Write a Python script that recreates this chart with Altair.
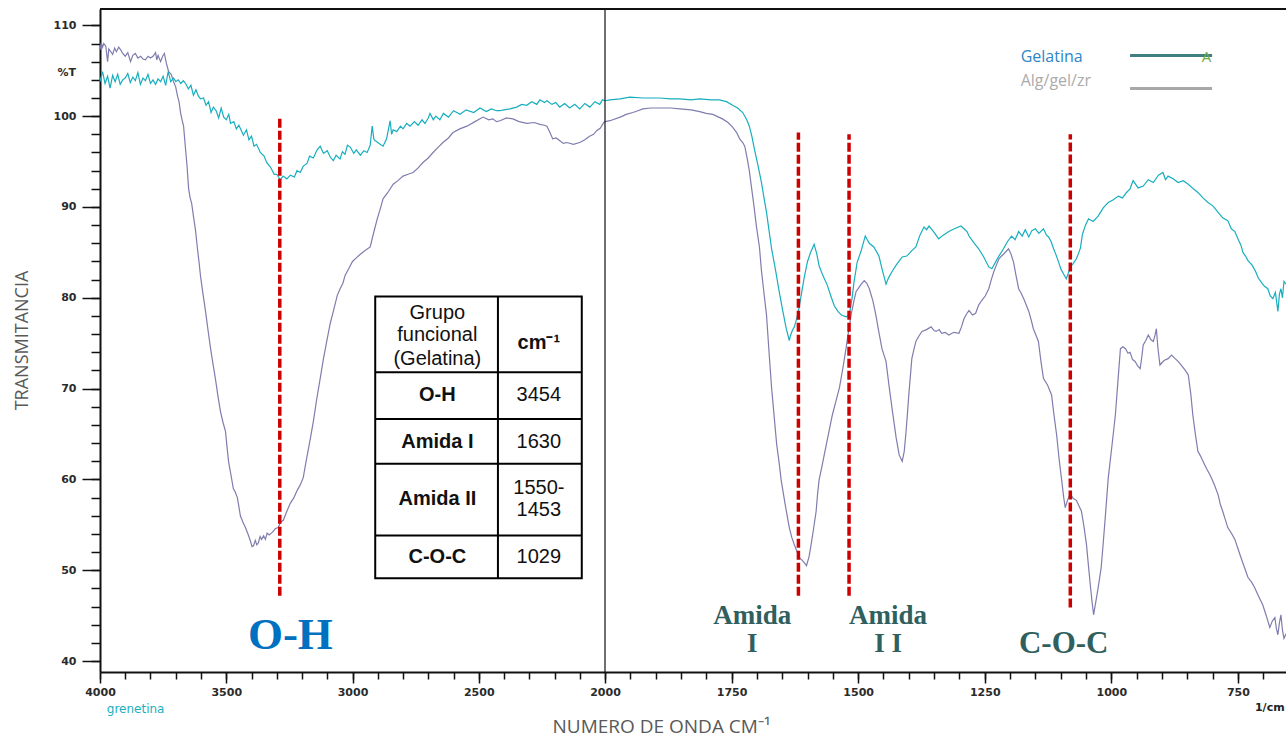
import altair as alt
import pandas as pd

# ---------------- data (wavenumber cm-1, %T) ----------------
GEL_WN = [4000, 3990, 3980, 3970, 3960, 3950, 3940, 3930, 3920, 3910, 3900, 3890, 3880, 3870, 3860, 3850,
          3840, 3830, 3820, 3810, 3800, 3790, 3780, 3770, 3760, 3750, 3740, 3730, 3720, 3709, 3700, 3690,
          3680, 3670, 3661, 3650, 3640, 3630, 3620, 3610, 3602, 3590, 3580, 3570, 3560, 3551, 3540, 3530,
          3520, 3510, 3500, 3490, 3483, 3470, 3460, 3450, 3440, 3432, 3420, 3410, 3400, 3390, 3380, 3365,
          3350, 3340, 3325, 3310, 3300, 3286, 3275, 3260, 3246, 3230, 3220, 3207, 3195, 3180, 3170, 3155,
          3140, 3128, 3115, 3100, 3088, 3076, 3065, 3049, 3040, 3030, 3020, 3009, 2995, 2985, 2969, 2955,
          2942, 2930, 2922, 2915, 2905, 2895, 2879, 2865, 2851, 2845, 2839, 2825, 2810, 2800, 2785, 2772,
          2755, 2740, 2725, 2713, 2700, 2693, 2680, 2670, 2654, 2640, 2620, 2600, 2574, 2550, 2520, 2495,
          2470, 2450, 2430, 2416, 2400, 2376, 2350, 2330, 2310, 2290, 2270, 2258, 2240, 2230, 2210, 2195,
          2179, 2160, 2140, 2120, 2100, 2080, 2060, 2040, 2021, 2010, 2000,
          1990, 1970, 1951, 1925, 1892, 1870, 1852, 1830, 1813, 1790, 1774, 1760, 1748, 1738, 1728, 1720,
          1715, 1710, 1705, 1698, 1691, 1686, 1681, 1676, 1671, 1663, 1656, 1649, 1642, 1636, 1634, 1630,
          1626, 1621, 1616, 1611, 1606, 1600, 1594, 1587, 1582, 1577, 1570, 1561, 1554, 1547, 1540, 1533,
          1524, 1520, 1516, 1512, 1508, 1502, 1494, 1486, 1482, 1478, 1469, 1459, 1452, 1445, 1440, 1433,
          1425, 1413, 1404, 1394, 1386, 1378, 1370, 1365, 1360, 1350, 1341, 1332, 1321, 1310, 1297, 1291,
          1285, 1281, 1272, 1262, 1252, 1242, 1236, 1229, 1222, 1213, 1205, 1197, 1190, 1183, 1176, 1170,
          1163, 1157, 1150, 1143, 1134, 1128, 1124, 1119, 1114, 1109, 1104, 1099, 1094, 1089, 1085, 1081,
          1075, 1069, 1064, 1061, 1057, 1051, 1045, 1036, 1026, 1016, 1006, 996, 986, 978, 970, 963,
          957, 947, 937, 927, 917, 907, 898, 893, 888, 878, 868, 858, 848, 838, 829, 819,
          809, 799, 789, 780, 770, 763, 756, 750, 744, 740, 735, 730, 722, 715, 710, 705,
          698, 691, 686, 681, 676, 671, 668, 665, 662, 659, 655]
GEL_T = [103.8, 104.9, 103.6, 104.4, 103.1, 104.5, 103.8, 104.6, 103.5, 104.0, 104.2, 104.7, 103.7, 104.3, 103.9, 104.8,
         103.5, 104.2, 103.9, 104.6, 103.6, 104.0, 103.5, 104.1, 103.8, 104.4, 103.4, 104.9, 103.8, 104.2, 103.8, 104.0,
         103.6, 103.9, 103.6, 103.0, 103.4, 102.3, 102.9, 102.2, 101.9, 102.0, 101.2, 101.6, 100.4, 101.0, 100.6, 99.8,
         100.9, 99.9, 99.6, 100.2, 99.2, 99.4, 98.6, 99.0, 98.4, 97.9, 98.5, 97.4, 97.8, 96.7, 96.9, 96.0,
         95.6, 94.9, 94.4, 93.6, 93.6, 93.0, 93.4, 93.1, 93.5, 93.3, 94.0, 93.8, 94.5, 94.8, 95.6, 95.4,
         96.3, 96.7, 95.9, 96.2, 95.5, 95.1, 95.7, 95.3, 96.1, 95.8, 96.8, 96.6, 95.9, 96.3, 95.7, 96.2,
         96.0, 96.8, 98.9, 97.4, 97.2, 97.0, 96.7, 97.5, 99.5, 98.0, 98.5, 98.3, 98.9, 98.6, 99.2, 98.9,
         99.4, 99.0, 99.6, 99.2, 99.8, 100.3, 99.6, 100.0, 99.6, 100.3, 99.9, 100.6, 100.2, 100.7, 100.4, 100.9,
         100.5, 100.8, 100.6, 100.6, 100.7, 100.8, 101.0, 101.3, 101.2, 101.6, 101.3, 101.8, 101.5, 101.7, 101.3, 101.5,
         101.0, 101.4, 100.9, 101.3, 100.8, 101.4, 101.0, 101.6, 101.3, 101.8, 101.7,
         101.8, 101.9, 102.1, 102.0, 102.0, 101.9, 101.9, 101.8, 101.9, 101.8, 101.8, 101.6, 101.2, 100.9, 100.4, 99.6,
         98.9, 97.8, 96.4, 94.6, 92.7, 91.0, 89.4, 87.4, 85.4, 83.0, 80.7, 78.6, 76.6, 75.3, 75.8, 76.4,
         76.8, 77.8, 79.1, 80.8, 82.4, 84.0, 85.0, 85.9, 84.9, 83.5, 82.5, 81.4, 80.2, 79.1, 78.5, 78.1,
         77.9, 78.0, 78.6, 80.0, 81.8, 83.9, 85.2, 86.8, 86.4, 86.0, 85.6, 84.6, 83.0, 81.5, 82.2, 82.9,
         83.6, 84.5, 84.6, 85.2, 85.6, 86.9, 87.8, 87.5, 87.9, 87.2, 86.5, 86.9, 87.3, 87.6, 87.9, 87.6,
         87.3, 86.8, 86.1, 85.4, 84.5, 83.4, 83.2, 83.9, 84.6, 85.4, 86.2, 86.8, 86.4, 87.3, 86.8, 87.5,
         86.7, 87.4, 87.6, 87.1, 87.6, 86.9, 86.7, 86.2, 85.4, 84.7, 83.9, 83.1, 82.6, 82.1, 82.7, 83.4,
         83.8, 84.3, 85.0, 85.5, 87.0, 88.0, 88.7, 88.4, 89.0, 89.9, 90.5, 90.8, 91.2, 91.0, 91.6, 92.0,
         92.9, 92.1, 92.3, 93.0, 92.7, 93.5, 93.8, 93.0, 93.4, 93.1, 92.7, 92.9, 92.5, 92.0, 91.6, 91.0,
         90.5, 90.1, 89.4, 88.8, 88.5, 87.6, 87.3, 86.5, 85.8, 85.0, 84.6, 84.1, 83.6, 82.9, 82.2, 81.8,
         81.3, 81.0, 80.2, 79.9, 80.6, 78.5, 80.4, 81.0, 80.0, 81.8, 81.5]

ALG_WN = [4000, 3995, 3990, 3985, 3977, 3970, 3965, 3960, 3950, 3942, 3935, 3926, 3918, 3910, 3900, 3890,
          3879, 3870, 3860, 3850, 3839, 3830, 3820, 3810, 3800, 3790, 3780, 3775, 3770, 3760, 3752, 3745,
          3737, 3728, 3718, 3709, 3700, 3693, 3687, 3681, 3675, 3669, 3660, 3655, 3649, 3643, 3637, 3630,
          3622, 3614, 3608, 3602, 3592, 3582, 3572, 3562, 3553, 3543, 3533, 3523, 3513, 3503, 3497, 3491,
          3482, 3472, 3464, 3456, 3450, 3444, 3434, 3424, 3414, 3404, 3398, 3392, 3385, 3379, 3373, 3366,
          3360, 3352, 3345, 3338, 3330, 3317, 3305, 3294, 3285, 3274, 3260, 3246, 3232, 3219, 3207, 3195,
          3187, 3179, 3167, 3155, 3142, 3128, 3115, 3100, 3088, 3076, 3060, 3049, 3038, 3029, 3015, 3000,
          2985, 2969, 2950, 2930, 2915, 2902, 2890, 2879, 2860, 2839, 2820, 2800, 2780, 2760, 2740, 2721,
          2700, 2681, 2660, 2642, 2620, 2602, 2575, 2547, 2515, 2483, 2460, 2444, 2430, 2416, 2390, 2365,
          2340, 2309, 2280, 2258, 2240, 2230, 2218, 2207, 2193, 2179, 2165, 2151, 2125, 2100, 2080, 2061,
          2045, 2033, 2018, 2005, 2000,
          1990, 1970, 1958, 1945, 1935, 1925, 1910, 1892, 1870, 1852, 1830, 1813, 1800, 1787, 1768, 1757,
          1748, 1740, 1734, 1728, 1724, 1719, 1715, 1711, 1706, 1701, 1695, 1691, 1686, 1681, 1676, 1671,
          1666, 1661, 1656, 1652, 1644, 1636, 1631, 1626, 1621, 1616, 1609, 1602, 1597, 1593, 1588, 1583,
          1580, 1577, 1572, 1567, 1559, 1551, 1544, 1537, 1530, 1524, 1519, 1514, 1509, 1504, 1499, 1494,
          1488, 1483, 1478, 1471, 1465, 1459, 1453, 1445, 1439, 1433, 1429, 1425, 1419, 1413, 1409, 1406,
          1403, 1400, 1397, 1394, 1390, 1386, 1380, 1374, 1365, 1356, 1350, 1346, 1340, 1335, 1328, 1321,
          1311, 1301, 1296, 1291, 1285, 1281, 1274, 1268, 1262, 1256, 1249, 1242, 1237, 1232, 1227, 1222,
          1217, 1213, 1208, 1203, 1198, 1193, 1188, 1183, 1178, 1173, 1168, 1163, 1158, 1154, 1149, 1144,
          1139, 1134, 1126, 1118, 1113, 1108, 1103, 1098, 1094, 1091, 1086, 1081, 1075, 1069, 1064, 1059,
          1054, 1049, 1045, 1041, 1038, 1035, 1031, 1026, 1023, 1020, 1016, 1012, 1009, 1006, 999, 992,
          987, 982, 977, 972, 967, 963, 958, 953, 948, 943, 940, 937, 932, 927, 922, 917,
          914, 911, 908, 904, 896, 888, 881, 874, 868, 862, 855, 848, 843, 839, 834, 829,
          824, 819, 812, 805, 797, 789, 785, 780, 775, 770, 763, 756, 750, 744, 737, 730,
          723, 717, 709, 701, 694, 687, 682, 677, 674, 671, 668, 665, 662, 659, 655]
ALG_T = [107.3, 108.1, 107.6, 108.0, 107.7, 106.0, 107.4, 107.2, 106.8, 107.5, 107.1, 107.6, 107.3, 106.9, 106.6, 107.0,
         106.0, 106.7, 106.9, 106.4, 106.6, 106.3, 106.2, 106.6, 106.4, 106.6, 107.0, 106.2, 106.7, 106.0, 106.6, 106.9,
         105.8, 104.9, 104.6, 103.8, 103.2, 102.2, 101.6, 100.4, 99.6, 98.9, 96.0, 94.4, 92.0, 91.0, 90.4, 89.0,
         87.5, 85.4, 84.0, 82.4, 80.4, 78.5, 76.4, 74.4, 72.8, 71.1, 69.2, 67.5, 66.3, 65.3, 63.6, 62.0,
         60.6, 59.0, 58.6, 58.0, 57.0, 56.0, 55.3, 54.7, 54.0, 53.2, 52.6, 52.7, 53.3, 52.8, 53.0, 53.7,
         53.4, 53.8, 53.4, 54.1, 53.9, 54.2, 54.6, 54.7, 55.3, 55.5, 56.5, 57.4, 58.0, 58.8, 59.4, 60.2,
         61.5, 62.7, 64.5, 66.4, 68.8, 71.1, 73.3, 75.5, 77.2, 78.5, 80.3, 81.0, 81.6, 82.5, 83.2, 84.0,
         84.4, 84.8, 85.2, 85.6, 87.3, 88.7, 89.8, 90.9, 91.6, 92.5, 92.9, 93.4, 93.6, 93.8, 94.3, 94.9,
         95.4, 96.0, 96.6, 97.1, 97.6, 98.2, 98.6, 98.9, 99.4, 99.9, 99.6, 99.7, 99.4, 99.5, 99.8, 99.7,
         99.4, 99.2, 99.3, 99.1, 99.0, 98.9, 98.2, 97.5, 97.6, 97.3, 97.0, 97.1, 96.9, 97.1, 97.4, 97.8,
         98.0, 98.4, 98.7, 99.3, 99.4,
         99.5, 99.9, 100.2, 100.4, 100.6, 100.8, 100.9, 100.9, 100.9, 100.8, 100.7, 100.5, 100.3, 100.2, 99.7, 99.3,
         98.8, 98.2, 97.5, 97.1, 96.7, 95.3, 94.0, 92.3, 90.2, 87.9, 85.6, 83.0, 80.5, 78.1, 74.0, 70.1,
         67.0, 63.9, 61.8, 59.9, 57.2, 54.7, 53.6, 52.8, 52.1, 51.4, 51.0, 50.5, 51.5, 52.8, 54.6, 56.5,
         58.5, 60.0, 61.3, 62.7, 64.9, 67.1, 68.6, 70.1, 72.3, 74.4, 76.3, 78.1, 79.5, 80.7, 81.1, 81.5,
         81.9, 81.6, 81.0, 79.7, 78.1, 76.2, 74.4, 73.0, 70.3, 67.8, 66.2, 64.6, 62.7, 62.0, 63.1, 64.9,
         67.0, 69.3, 71.3, 73.3, 74.3, 75.2, 75.8, 76.3, 76.5, 76.8, 76.4, 76.3, 76.5, 76.1, 76.2, 75.9,
         76.2, 76.1, 76.8, 77.7, 78.3, 78.6, 78.1, 78.3, 79.2, 79.7, 80.2, 81.0, 82.0, 82.9, 83.6, 84.3,
         84.6, 84.8, 85.1, 85.4, 84.8, 83.9, 82.4, 81.0, 80.5, 79.9, 79.2, 78.5, 77.5, 76.6, 75.9, 75.2,
         73.0, 71.1, 70.4, 69.3, 67.0, 64.9, 62.2, 59.9, 58.0, 56.9, 57.8, 58.4, 57.9, 57.7, 57.1, 56.5,
         54.8, 52.8, 50.4, 48.1, 46.5, 45.1, 46.4, 48.1, 49.2, 50.3, 53.0, 55.8, 58.0, 60.2, 63.6, 67.1,
         70.8, 74.4, 74.6, 74.4, 73.9, 74.0, 73.2, 73.0, 72.5, 72.2, 73.4, 74.8, 75.3, 75.9, 75.4, 75.2,
         75.8, 76.6, 74.5, 72.6, 73.1, 73.3, 73.7, 73.3, 73.0, 72.6, 72.1, 71.5, 69.4, 67.1, 65.0, 63.1,
         62.6, 62.0, 61.2, 60.5, 59.5, 58.3, 57.3, 56.5, 55.6, 54.7, 54.1, 53.4, 52.4, 51.4, 50.3, 49.2,
         48.7, 48.1, 47.1, 46.2, 45.0, 43.7, 44.4, 44.8, 43.6, 42.9, 44.2, 45.1, 43.4, 42.5, 43.0]

SERIES = ["Gelatina", "Alg/gel/zr"]
SERIES_COLORS = ["#17AEBE", "#7F7DAE"]

# band markers (dashed red lines)
MARK_WN = [3288, 1618, 1518, 1081]
MARK_TOP = [100.0, 98.2, 98.0, 98.0]
MARK_BOT = [47.2, 47.2, 47.2, 45.9]

# band labels
LBL_TEXT = ["O-H", "Amida", "I", "Amida", "I I", "C-O-C"]
LBL_WN = [3246, 1709, 1709, 1441, 1441, 1094]
LBL_T = [42.9, 45.0, 41.9, 45.0, 41.9, 41.9]
LBL_SIZE = [45, 27, 27, 27, 27, 31]
LBL_COLOR = ["#0070C0", "#30605E", "#30605E", "#30605E", "#30605E", "#30605E"]

# inset table
TAB_ROWS_LEFT = ["Grupo", "funcional", "(Gelatina)", "O-H", "Amida I", "Amida II", "C-O-C"]
TAB_ROWS_LEFT_T = [78.3, 75.9, 73.3, 69.3, 64.1, 57.8, 51.5]
TAB_ROWS_LEFT_BOLD = [False, False, False, True, True, True, True]
TAB_ROWS_RIGHT = ["cm⁻¹", "3454", "1630", "1550-", "1453", "1029"]
TAB_ROWS_RIGHT_T = [75.0, 69.3, 64.1, 59.1, 56.6, 51.5]
TAB_ROWS_RIGHT_BOLD = [True, False, False, False, False, False]
TAB_COL_EDGES = [2910, 2424, 2092]
TAB_COL_CENTERS = [2664, 2262]
TAB_ROW_EDGES = [80.14, 71.81, 66.66, 61.73, 53.83, 49.11]

# axes
X_DOMAIN = [4000, 2000, 655]
X_RANGE = [0, 505, 1186]
Y_DOMAIN = [38.8, 111.8]
X_TICKS = list(range(4000, 1999, -100)) + list(range(1950, 699, -50))
X_MAJOR = [4000, 3500, 3000, 2500, 2000, 1750, 1500, 1250, 1000, 750]
Y_TICKS = list(range(40, 111, 2))
Y_MAJOR = list(range(40, 111, 10))

W, H = 1186, 663

xs = alt.Scale(domain=X_DOMAIN, range=X_RANGE, nice=False, zero=False)
ys = alt.Scale(domain=Y_DOMAIN, nice=False, zero=False)

LABEL_STYLE = dict(labelFont="DejaVu Sans", labelFontWeight="bold", labelFontSize=11,
                   labelColor="#2b2b2b", grid=False, tickColor="#111", tickWidth=1.5)

x_axis_minor = alt.Axis(values=X_TICKS, labels=False, tickSize=7, domainColor="#111", domainWidth=2,
                        orient="bottom", title=None, grid=False, tickColor="#111", tickWidth=1.5)
y_axis_minor = alt.Axis(values=Y_TICKS, labels=False, tickSize=9, domainColor="#111", domainWidth=2,
                        orient="left", title=None, grid=False, tickColor="#111", tickWidth=1.5)

x_axis_major = alt.Axis(
    values=X_MAJOR, format="d", tickSize=11, domain=False, orient="bottom",
    labelPadding=3, labelFlush=False, **LABEL_STYLE,
    title="NUMERO DE ONDA CM⁻¹", titleFont="Open Sans", titleFontWeight="normal",
    titleFontSize=19, titleColor="#595959", titleX=561, titleY=54, titleAlign="center",
    titleBaseline="middle",
)
y_axis_major = alt.Axis(
    values=Y_MAJOR, format="d", tickSize=18, domain=False, orient="left",
    labelPadding=6, **LABEL_STYLE,
    title="TRANSMITANCIA", titleFont="Open Sans", titleFontWeight="normal",
    titleFontSize=18, titleColor="#595959", titleX=-78, titleY=331, titleAngle=270,
    titleAlign="center", titleBaseline="middle",
)


def X(field, axis=None):
    return alt.X(field, type="quantitative", scale=xs, axis=axis)


def Y(field, axis=None):
    return alt.Y(field, type="quantitative", scale=ys, axis=axis)


df_gel = pd.DataFrame({"wn": GEL_WN, "T": GEL_T})
df_alg = pd.DataFrame({"wn": ALG_WN, "T": ALG_T})

line_alg = alt.Chart(df_alg).mark_line(strokeWidth=1.2, color=SERIES_COLORS[1]).encode(
    x=X("wn", x_axis_minor), y=Y("T", y_axis_minor)
)
line_gel = alt.Chart(df_gel).mark_line(strokeWidth=1.2, color=SERIES_COLORS[0]).encode(
    x=X("wn", x_axis_major), y=Y("T", y_axis_major)
)

# frame pieces: split line at 2000 and top border
frame = pd.DataFrame({"x1": [2000, 4000], "x2": [2000, 655], "y1": [Y_DOMAIN[0], Y_DOMAIN[1]],
                      "y2": [Y_DOMAIN[1], Y_DOMAIN[1]], "w": [1.2, 2.0]})
frame_rules = alt.Chart(frame).mark_rule(color="#111").encode(
    x=X("x1"), x2="x2", y=Y("y1"), y2="y2",
    strokeWidth=alt.StrokeWidth("w:Q", scale=None)
)

marks = pd.DataFrame({"wn": MARK_WN, "top": MARK_TOP, "bot": MARK_BOT})
mark_rules = alt.Chart(marks).mark_rule(color="#CC0000", strokeWidth=3.5, strokeDash=[9, 3]).encode(
    x=X("wn"), y=Y("bot"), y2="top"
)

labels = pd.DataFrame({"t": LBL_TEXT, "wn": LBL_WN, "T": LBL_T, "s": LBL_SIZE, "c": LBL_COLOR})
label_text = alt.Chart(labels).mark_text(font="Liberation Serif", fontWeight="bold").encode(
    x=X("wn"), y=Y("T"), text="t", size=alt.Size("s:Q", scale=None),
    color=alt.Color("c:N", scale=None)
)

# table
tab_box = pd.DataFrame({"x1": [TAB_COL_EDGES[0]], "x2": [TAB_COL_EDGES[2]],
                        "y1": [TAB_ROW_EDGES[0]], "y2": [TAB_ROW_EDGES[-1]]})
table_rect = alt.Chart(tab_box).mark_rect(fill="white", stroke="#000", strokeWidth=2).encode(
    x=X("x1"), x2="x2", y=Y("y1"), y2="y2"
)
hlines = pd.DataFrame({"y": TAB_ROW_EDGES[1:-1], "a": TAB_COL_EDGES[0], "b": TAB_COL_EDGES[2]})
table_h = alt.Chart(hlines).mark_rule(color="#000", strokeWidth=2).encode(
    x=X("a"), x2="b", y=Y("y")
)
vline = pd.DataFrame({"x": [TAB_COL_EDGES[1]], "y1": [TAB_ROW_EDGES[0]], "y2": [TAB_ROW_EDGES[-1]]})
table_v = alt.Chart(vline).mark_rule(color="#000", strokeWidth=2).encode(
    x=X("x"), y=Y("y1"), y2="y2"
)
left_df = pd.DataFrame({"t": TAB_ROWS_LEFT, "T": TAB_ROWS_LEFT_T,
                        "w": ["bold" if b else "normal" for b in TAB_ROWS_LEFT_BOLD],
                        "wn": TAB_COL_CENTERS[0]})
right_df = pd.DataFrame({"t": TAB_ROWS_RIGHT, "T": TAB_ROWS_RIGHT_T,
                         "w": ["bold" if b else "normal" for b in TAB_ROWS_RIGHT_BOLD],
                         "wn": TAB_COL_CENTERS[1]})
tab_df = pd.concat([left_df, right_df])
tab_text_n = alt.Chart(tab_df[tab_df.w == "normal"]).mark_text(
    font="Liberation Sans", fontSize=20, color="#111").encode(x=X("wn"), y=Y("T"), text="t")
tab_text_b = alt.Chart(tab_df[tab_df.w == "bold"]).mark_text(
    font="Liberation Sans", fontSize=20, fontWeight="bold", color="#111").encode(x=X("wn"), y=Y("T"), text="t")

# legend (drawn as in the figure)
leg_txt = pd.DataFrame({"t": SERIES, "wn": [1179, 1179], "T": [106.46, 103.83],
                        "c": ["#2E86C8", "#ABABAB"]})
legend_text = alt.Chart(leg_txt).mark_text(font="Open Sans", fontSize=16, align="left").encode(
    x=X("wn"), y=Y("T"), text="t", color=alt.Color("c:N", scale=None)
)
leg_line = pd.DataFrame({"a": [963, 963], "b": [801, 801], "T": [106.68, 103.06],
                         "c": ["#3F7F80", "#A8A8A8"]})
legend_lines = alt.Chart(leg_line).mark_rule(strokeWidth=3).encode(
    x=X("a"), x2="b", y=Y("T"), color=alt.Color("c:N", scale=None)
)
leg_a = pd.DataFrame({"t": ["A"], "wn": [812], "T": [106.5]})
legend_a = alt.Chart(leg_a).mark_text(font="Open Sans", fontSize=15, color="#70AD47").encode(
    x=X("wn"), y=Y("T"), text="t"
)

# small annotations around the axes
note_g = alt.Chart(pd.DataFrame({"t": ["grenetina"], "wn": [3859], "T": [34.75]})).mark_text(
    font="DejaVu Sans", fontSize=12, color="#1AAFBF").encode(x=X("wn"), y=Y("T"), text="t")
note_c = alt.Chart(pd.DataFrame({"t": ["1/cm"], "wn": [687], "T": [34.8]})).mark_text(
    font="DejaVu Sans", fontSize=11, fontWeight="bold", color="#222").encode(x=X("wn"), y=Y("T"), text="t")
note_pct = alt.Chart(pd.DataFrame({"t": ["%T"], "T": [104.8]})).mark_text(
    font="DejaVu Sans", fontSize=11, fontWeight="bold", color="#2b2b2b", align="right"
).encode(x=alt.value(-24), y=Y("T"), text="t")

chart = alt.layer(
    line_alg, line_gel, frame_rules, mark_rules, table_rect, table_h, table_v,
    tab_text_n, tab_text_b, label_text, legend_lines, legend_a, legend_text,
    note_g, note_c, note_pct
).resolve_axis(x="independent", y="independent").properties(
    width=W, height=H, autosize="none",
    padding={"left": 100, "top": 9, "right": 0, "bottom": 65},
    background="white",
).configure_view(stroke=None)

chart.save("out.html", embed_options={"renderer": "svg", "actions": False})
